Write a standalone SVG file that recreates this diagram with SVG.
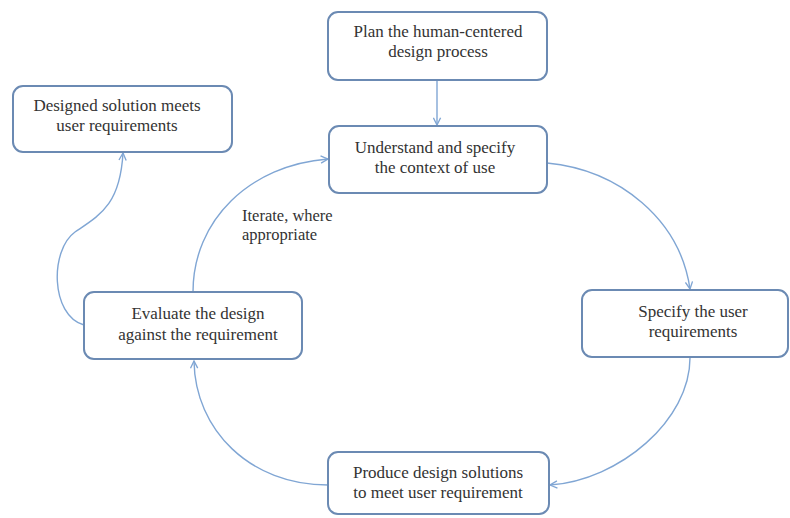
<svg xmlns="http://www.w3.org/2000/svg" width="790" height="518" viewBox="0 0 790 518">
<style>
.box{fill:#fff;stroke:#6b8ab3;stroke-width:2}
.lbl{font-family:'Liberation Serif','Tinos','DejaVu Serif',serif;font-size:17px;fill:#333;text-anchor:middle}
.lbl2{font-family:'Liberation Serif','Tinos','DejaVu Serif',serif;font-size:16.5px;fill:#333}
.con{fill:none;stroke:#80a6d4;stroke-width:1.4;marker-end:url(#arr)}
</style>
<defs>
<marker id="arr" viewBox="0 0 10 10" refX="9" refY="5" markerWidth="9" markerHeight="9" markerUnits="userSpaceOnUse" orient="auto">
<path d="M1,1 L9,5 L1,9" fill="none" stroke="#80a6d4" stroke-width="1.5"/>
</marker>
</defs>
<rect width="790" height="518" fill="#fff"/>
<g id="connectors">
<path class="con" d="M437,80 L437,125"/>
<path class="con" d="M547,163 C620,170 680,220 690,289"/>
<path class="con" d="M690,358 C690,420 620,480 550,485"/>
<path class="con" d="M328,485 C250,485 195,430 194,361"/>
<path class="con" d="M193,292 C193,220 250,165 328,159"/>
<path class="con" d="M84,325 C50,315 50,250 75,232 C100,215 120,205 123,153"/>
</g>
<g id="plan">
<rect class="box" x="328" y="12" width="219" height="68" rx="10"/>
<text class="lbl" x="438" y="37">Plan the human-centered</text>
<text class="lbl" x="438" y="57">design process</text>
</g>
<g id="understand">
<rect class="box" x="329" y="126" width="218" height="67" rx="10"/>
<text class="lbl" x="435" y="153">Understand and specify</text>
<text class="lbl" x="435" y="173">the context of use</text>
</g>
<g id="specify">
<rect class="box" x="582" y="290" width="206" height="67" rx="10"/>
<text class="lbl" x="693" y="317">Specify the user</text>
<text class="lbl" x="693" y="337">requirements</text>
</g>
<g id="produce">
<rect class="box" x="328" y="452" width="221" height="62" rx="10"/>
<text class="lbl" x="438" y="478">Produce design solutions</text>
<text class="lbl" x="438" y="498">to meet user requirement</text>
</g>
<g id="evaluate">
<rect class="box" x="84" y="292" width="218" height="67" rx="10"/>
<text class="lbl" x="198" y="319">Evaluate the design</text>
<text class="lbl" x="198" y="340">against the requirement</text>
</g>
<g id="designed">
<rect class="box" x="13" y="86" width="219" height="66" rx="10"/>
<text class="lbl" x="117" y="111">Designed solution meets</text>
<text class="lbl" x="117" y="131">user requirements</text>
</g>
<g id="iterate-label">
<text class="lbl2" x="242" y="221">Iterate, where</text>
<text class="lbl2" x="242" y="240">appropriate</text>
</g>
</svg>
